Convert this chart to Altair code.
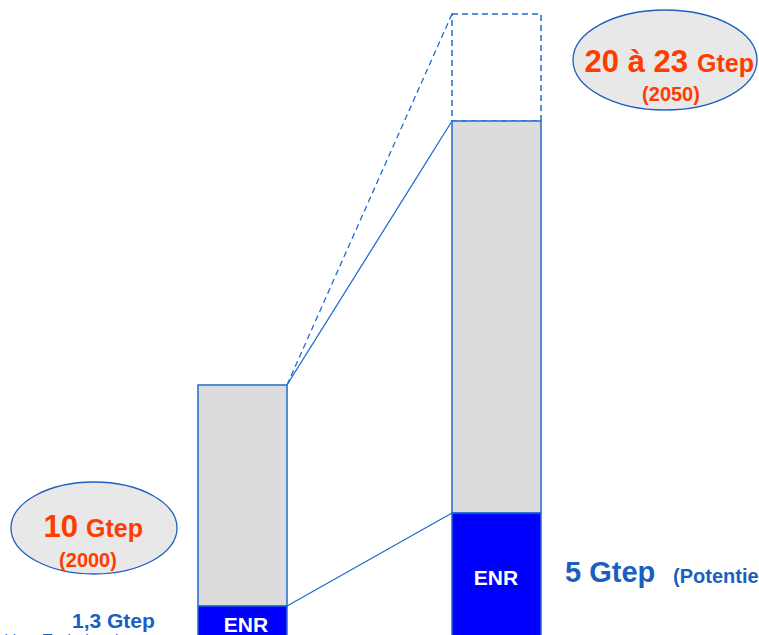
import altair as alt
import pandas as pd

# ---- data (Gtep) ----
years = [2000, 2050]
enr_values = [1.3, 5.0]          # renewable energy part
total_values = [10, 20]          # total consumption
high_2050 = 23                   # upper estimate 2050

# bar segments
seg = pd.DataFrame({
    "year": years + years + [2050],
    "lo": [0, 0] + enr_values + [total_values[1]],
    "hi": enr_values + total_values + [high_2050],
    "kind": ["ENR", "ENR", "Autres", "Autres", "Haut"],
})
# connector lines (2000 -> 2050)
links = pd.DataFrame({
    "x1": [2000, 2000, 2000],
    "x2": [2050, 2050, 2050],
    "y1": [total_values[0], total_values[0], enr_values[0]],
    "y2": [total_values[1], high_2050, enr_values[1]],
    "style": ["solid", "dashed", "solid"],
})

FONT = "Liberation Sans"
ORANGE = "#ff3c00"
BLUE_TXT = "#1a5fbf"
LINE = "#1f6cd0"

xs = alt.Scale(domain=[2000, 2050], range=[242.5, 496.5])
ys = alt.Scale(domain=[0, 1.3, 5, 10, 20, 23], range=[650, 606, 513, 385, 121, 14],
               zero=False, nice=False)
HW = 44.5

def bars(kind, fill, dash=None):
    kw = dict(xOffset=-HW, x2Offset=HW, fill=fill, stroke=LINE, strokeWidth=1.5, clip=True)
    if dash:
        kw["strokeDash"] = dash
    return alt.Chart(seg).transform_filter(alt.datum.kind == kind).mark_rect(**kw).encode(
        x=alt.X("year:Q", scale=xs, axis=None),
        x2="year:Q",
        y=alt.Y("lo:Q", scale=ys, axis=None),
        y2="hi:Q",
    )

def link(style):
    kw = dict(xOffset=HW, x2Offset=-HW, color=LINE, strokeWidth=1.3)
    if style == "dashed":
        kw["strokeDash"] = [6, 4]
    return alt.Chart(links).transform_filter(alt.datum.style == style).mark_rule(**kw).encode(
        x=alt.X("x1:Q", scale=xs, axis=None),
        x2="x2:Q",
        y=alt.Y("y1:Q", scale=ys, axis=None),
        y2="y2:Q",
    )

def ellipse(cx, cy, rx, ry):
    a = ry / rx
    path = f"M-1,0A1,{a:.4f},0,1,0,1,0A1,{a:.4f},0,1,0,-1,0Z"
    return alt.Chart(pd.DataFrame({"k": [0]})).mark_point(
        shape=path, size=(2 * rx) ** 2, filled=True, fill="#e8e8e8", fillOpacity=1,
        stroke="#1f5fbf", strokeWidth=1.3, opacity=1,
    ).encode(x=alt.value(cx), y=alt.value(cy))

def txt(text, x, y, size, color, align="center", bold=True):
    return alt.Chart(pd.DataFrame({"t": [text]})).mark_text(
        font=FONT, fontSize=size, fontWeight="bold" if bold else "normal",
        color=color, align=align, baseline="alphabetic",
    ).encode(x=alt.value(x), y=alt.value(y), text="t:N")

layers = [
    link("solid"),
    link("dashed"),
    bars("Haut", "#ffffff", [6, 4]),
    bars("Autres", "#dcdcdc"),
    bars("ENR", "#0000ff"),
    ellipse(94, 528, 83, 46),
    ellipse(665, 60, 92, 50),
    txt("10", 78, 537, 31, ORANGE, "right"),
    txt("Gtep", 86, 537, 25, ORANGE, "left"),
    txt("(2000)", 88, 567, 20, ORANGE),
    txt("20 à 23", 688, 72, 31, ORANGE, "right"),
    txt("Gtep", 697, 72, 25, ORANGE, "left"),
    txt("(2050)", 671, 101, 20, ORANGE),
    txt("ENR", 246, 632, 21, "white"),
    txt("ENR", 496, 585, 21, "white"),
    txt("1,3 Gtep", 72, 628, 21, BLUE_TXT, "left"),
    txt("5 Gtep", 565, 582, 29, BLUE_TXT, "left"),
    txt("(Potentiel)", 673, 583, 20, BLUE_TXT, "left"),
    txt("(dont Technique)", 2, 646, 16, BLUE_TXT, "left", bold=False),
]

chart = alt.layer(*layers).properties(
    width=759, height=635, padding=0, autosize="none", background="white"
).configure_view(stroke=None)

chart.save("out.html", embed_options={"renderer": "svg", "actions": False})
